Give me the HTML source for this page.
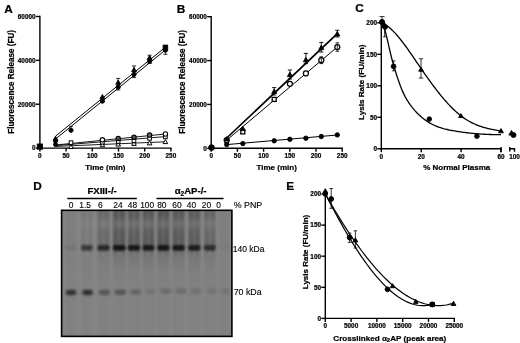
<!DOCTYPE html>
<html><head><meta charset="utf-8"><style>
html,body{margin:0;padding:0;background:#fff;}
svg{display:block;}
text{font-family:"Liberation Sans", Arial, Helvetica, sans-serif;fill:#000;}
text[font-weight="bold"]{stroke:#000;stroke-width:0.22px;}
text[font-weight="normal"]{stroke:#000;stroke-width:0.12px;}
</style></head><body>
<svg width="520" height="343" viewBox="0 0 520 343">
<rect width="520" height="343" fill="#fff"/>
<text x="4.20" y="12.50" font-size="11.8" font-weight="bold" text-anchor="start" >A</text>
<line x1="39.90" y1="15.80" x2="39.90" y2="148.80" stroke="#000" stroke-width="1.4"/>
<line x1="39.20" y1="148.10" x2="171.60" y2="148.10" stroke="#000" stroke-width="1.4"/>
<line x1="35.90" y1="148.10" x2="39.90" y2="148.10" stroke="#000" stroke-width="1.4"/>
<text x="35.60" y="150.40" font-size="6.4" font-weight="bold" text-anchor="end" >0</text>
<line x1="35.90" y1="104.23" x2="39.90" y2="104.23" stroke="#000" stroke-width="1.4"/>
<text x="35.60" y="106.53" font-size="6.4" font-weight="bold" text-anchor="end" >20000</text>
<line x1="35.90" y1="60.37" x2="39.90" y2="60.37" stroke="#000" stroke-width="1.4"/>
<text x="35.60" y="62.67" font-size="6.4" font-weight="bold" text-anchor="end" >40000</text>
<line x1="35.90" y1="16.50" x2="39.90" y2="16.50" stroke="#000" stroke-width="1.4"/>
<text x="35.60" y="18.80" font-size="6.4" font-weight="bold" text-anchor="end" >60000</text>
<line x1="39.90" y1="148.10" x2="39.90" y2="151.60" stroke="#000" stroke-width="1.4"/>
<text x="39.90" y="157.70" font-size="6.4" font-weight="bold" text-anchor="middle" >0</text>
<line x1="66.10" y1="148.10" x2="66.10" y2="151.60" stroke="#000" stroke-width="1.4"/>
<text x="66.10" y="157.70" font-size="6.4" font-weight="bold" text-anchor="middle" >50</text>
<line x1="92.30" y1="148.10" x2="92.30" y2="151.60" stroke="#000" stroke-width="1.4"/>
<text x="92.30" y="157.70" font-size="6.4" font-weight="bold" text-anchor="middle" >100</text>
<line x1="118.50" y1="148.10" x2="118.50" y2="151.60" stroke="#000" stroke-width="1.4"/>
<text x="118.50" y="157.70" font-size="6.4" font-weight="bold" text-anchor="middle" >150</text>
<line x1="144.70" y1="148.10" x2="144.70" y2="151.60" stroke="#000" stroke-width="1.4"/>
<text x="144.70" y="157.70" font-size="6.4" font-weight="bold" text-anchor="middle" >200</text>
<line x1="170.90" y1="148.10" x2="170.90" y2="151.60" stroke="#000" stroke-width="1.4"/>
<text x="170.90" y="157.70" font-size="6.4" font-weight="bold" text-anchor="middle" >250</text>
<text x="105.40" y="170.10" font-size="8" font-weight="bold" text-anchor="middle" >Time (min)</text>
<text transform="translate(14.10,81.9) rotate(-90)" font-size="8.15" font-weight="bold" text-anchor="middle">Fluorescence Release (FU)</text>
<polyline points="55.50,145.00 165.40,134.00" fill="none" stroke="#000" stroke-width="0.9"/>
<polyline points="55.50,145.60 165.40,136.60" fill="none" stroke="#000" stroke-width="0.9"/>
<polyline points="55.50,146.40 165.40,141.80" fill="none" stroke="#000" stroke-width="0.9"/>
<polygon points="71.00,144.55 73.30,148.55 68.70,148.55" fill="#fff" stroke="#000" stroke-width="1.0"/>
<polygon points="102.40,142.74 104.70,146.74 100.10,146.74" fill="#fff" stroke="#000" stroke-width="1.0"/>
<polygon points="118.20,142.08 120.50,146.08 115.90,146.08" fill="#fff" stroke="#000" stroke-width="1.0"/>
<polygon points="134.00,141.41 136.30,145.41 131.70,145.41" fill="#fff" stroke="#000" stroke-width="1.0"/>
<polygon points="149.60,140.86 151.90,144.86 147.30,144.86" fill="#fff" stroke="#000" stroke-width="1.0"/>
<polygon points="165.40,139.60 167.70,143.60 163.10,143.60" fill="#fff" stroke="#000" stroke-width="1.0"/>
<rect x="69.20" y="140.83" width="3.6" height="3.6" fill="#fff" stroke="#000" stroke-width="1.0"/>
<rect x="100.60" y="140.46" width="3.6" height="3.6" fill="#fff" stroke="#000" stroke-width="1.0"/>
<rect x="116.40" y="139.67" width="3.6" height="3.6" fill="#fff" stroke="#000" stroke-width="1.0"/>
<rect x="132.20" y="138.87" width="3.6" height="3.6" fill="#fff" stroke="#000" stroke-width="1.0"/>
<rect x="147.80" y="136.59" width="3.6" height="3.6" fill="#fff" stroke="#000" stroke-width="1.0"/>
<rect x="163.60" y="135.10" width="3.6" height="3.6" fill="#fff" stroke="#000" stroke-width="1.0"/>
<circle cx="102.40" cy="139.81" r="2.2" fill="#fff" stroke="#000" stroke-width="1.1"/>
<circle cx="118.20" cy="138.42" r="2.2" fill="#555" stroke="#000" stroke-width="1.1"/>
<circle cx="134.00" cy="137.14" r="2.2" fill="#555" stroke="#000" stroke-width="1.1"/>
<circle cx="149.60" cy="134.98" r="2.2" fill="#666" stroke="#000" stroke-width="1.1"/>
<circle cx="165.40" cy="134.00" r="2.2" fill="#fff" stroke="#000" stroke-width="1.1"/>
<polyline points="55.50,136.20 165.40,47.20" fill="none" stroke="#000" stroke-width="1.0"/>
<polyline points="55.50,139.00 165.40,50.00" fill="none" stroke="#000" stroke-width="1.0"/>
<rect x="163.10" y="45.30" width="4.6" height="4.6" fill="#000" stroke="#000" stroke-width="0.9"/>
<circle cx="55.50" cy="141.00" r="2.1" fill="#000" stroke="#000" stroke-width="0.9"/>
<circle cx="71.00" cy="130.30" r="2.1" fill="#000" stroke="#000" stroke-width="0.9"/>
<circle cx="102.40" cy="101.20" r="2.1" fill="#000" stroke="#000" stroke-width="0.9"/>
<circle cx="118.20" cy="87.00" r="2.1" fill="#000" stroke="#000" stroke-width="0.9"/>
<circle cx="134.00" cy="74.40" r="2.1" fill="#000" stroke="#000" stroke-width="0.9"/>
<circle cx="149.60" cy="61.20" r="2.1" fill="#000" stroke="#000" stroke-width="0.9"/>
<circle cx="165.40" cy="50.20" r="2.1" fill="#000" stroke="#000" stroke-width="0.9"/>
<polygon points="55.50,136.19 57.91,140.39 53.09,140.39" fill="#000" stroke="#000" stroke-width="0.9"/>
<polygon points="102.40,94.49 104.82,98.69 99.98,98.69" fill="#000" stroke="#000" stroke-width="0.9"/>
<polygon points="118.20,80.09 120.62,84.29 115.78,84.29" fill="#000" stroke="#000" stroke-width="0.9"/>
<polygon points="134.00,67.49 136.41,71.69 131.59,71.69" fill="#000" stroke="#000" stroke-width="0.9"/>
<polygon points="149.60,55.29 152.01,59.49 147.19,59.49" fill="#000" stroke="#000" stroke-width="0.9"/>
<circle cx="55.50" cy="144.60" r="2.0" fill="#000" stroke="#000" stroke-width="0.9"/>
<line x1="71.00" y1="126.40" x2="71.00" y2="130.30" stroke="#000" stroke-width="0.8"/>
<line x1="69.20" y1="126.40" x2="72.80" y2="126.40" stroke="#000" stroke-width="0.8"/>
<line x1="69.20" y1="130.30" x2="72.80" y2="130.30" stroke="#000" stroke-width="0.8"/>
<line x1="118.20" y1="78.40" x2="118.20" y2="90.00" stroke="#000" stroke-width="0.8"/>
<line x1="116.10" y1="78.40" x2="120.30" y2="78.40" stroke="#000" stroke-width="0.8"/>
<line x1="116.10" y1="90.00" x2="120.30" y2="90.00" stroke="#000" stroke-width="0.8"/>
<line x1="134.00" y1="65.90" x2="134.00" y2="77.60" stroke="#000" stroke-width="0.8"/>
<line x1="131.90" y1="65.90" x2="136.10" y2="65.90" stroke="#000" stroke-width="0.8"/>
<line x1="131.90" y1="77.60" x2="136.10" y2="77.60" stroke="#000" stroke-width="0.8"/>
<line x1="149.60" y1="55.20" x2="149.60" y2="63.50" stroke="#000" stroke-width="0.8"/>
<line x1="147.50" y1="55.20" x2="151.70" y2="55.20" stroke="#000" stroke-width="0.8"/>
<line x1="147.50" y1="63.50" x2="151.70" y2="63.50" stroke="#000" stroke-width="0.8"/>
<line x1="165.40" y1="45.20" x2="165.40" y2="54.30" stroke="#000" stroke-width="0.8"/>
<line x1="163.30" y1="45.20" x2="167.50" y2="45.20" stroke="#000" stroke-width="0.8"/>
<line x1="163.30" y1="54.30" x2="167.50" y2="54.30" stroke="#000" stroke-width="0.8"/>
<rect x="37.30" y="144.00" width="5.2" height="5.2" fill="#000" stroke="#000" stroke-width="0.9"/>
<text x="176.80" y="12.50" font-size="11.8" font-weight="bold" text-anchor="start" >B</text>
<line x1="211.20" y1="16.00" x2="211.20" y2="149.00" stroke="#000" stroke-width="1.4"/>
<line x1="210.50" y1="148.30" x2="342.90" y2="148.30" stroke="#000" stroke-width="1.4"/>
<line x1="207.20" y1="148.30" x2="211.20" y2="148.30" stroke="#000" stroke-width="1.4"/>
<text x="206.90" y="150.60" font-size="6.4" font-weight="bold" text-anchor="end" >0</text>
<line x1="207.20" y1="104.43" x2="211.20" y2="104.43" stroke="#000" stroke-width="1.4"/>
<text x="206.90" y="106.73" font-size="6.4" font-weight="bold" text-anchor="end" >20000</text>
<line x1="207.20" y1="60.57" x2="211.20" y2="60.57" stroke="#000" stroke-width="1.4"/>
<text x="206.90" y="62.87" font-size="6.4" font-weight="bold" text-anchor="end" >40000</text>
<line x1="207.20" y1="16.70" x2="211.20" y2="16.70" stroke="#000" stroke-width="1.4"/>
<text x="206.90" y="19.00" font-size="6.4" font-weight="bold" text-anchor="end" >60000</text>
<line x1="211.20" y1="148.30" x2="211.20" y2="151.80" stroke="#000" stroke-width="1.4"/>
<text x="211.20" y="157.90" font-size="6.4" font-weight="bold" text-anchor="middle" >0</text>
<line x1="237.40" y1="148.30" x2="237.40" y2="151.80" stroke="#000" stroke-width="1.4"/>
<text x="237.40" y="157.90" font-size="6.4" font-weight="bold" text-anchor="middle" >50</text>
<line x1="263.60" y1="148.30" x2="263.60" y2="151.80" stroke="#000" stroke-width="1.4"/>
<text x="263.60" y="157.90" font-size="6.4" font-weight="bold" text-anchor="middle" >100</text>
<line x1="289.80" y1="148.30" x2="289.80" y2="151.80" stroke="#000" stroke-width="1.4"/>
<text x="289.80" y="157.90" font-size="6.4" font-weight="bold" text-anchor="middle" >150</text>
<line x1="316.00" y1="148.30" x2="316.00" y2="151.80" stroke="#000" stroke-width="1.4"/>
<text x="316.00" y="157.90" font-size="6.4" font-weight="bold" text-anchor="middle" >200</text>
<line x1="342.20" y1="148.30" x2="342.20" y2="151.80" stroke="#000" stroke-width="1.4"/>
<text x="342.20" y="157.90" font-size="6.4" font-weight="bold" text-anchor="middle" >250</text>
<text x="276.70" y="170.10" font-size="8" font-weight="bold" text-anchor="middle" >Time (min)</text>
<text transform="translate(185.40,81.9) rotate(-90)" font-size="8.15" font-weight="bold" text-anchor="middle">Fluorescence Release (FU)</text>
<polyline points="226.70,144.60 337.30,135.00" fill="none" stroke="#000" stroke-width="1.0"/>
<polyline points="226.70,140.20 337.30,47.00" fill="none" stroke="#000" stroke-width="1.0"/>
<polyline points="226.70,138.00 337.30,33.60" fill="none" stroke="#000" stroke-width="1.7"/>
<rect x="224.90" y="139.20" width="3.6" height="3.6" fill="#fff" stroke="#000" stroke-width="0.9"/>
<rect x="240.80" y="129.90" width="4.0" height="4.0" fill="#fff" stroke="#000" stroke-width="1.3"/>
<rect x="272.20" y="97.40" width="4.0" height="4.0" fill="#fff" stroke="#000" stroke-width="1.3"/>
<circle cx="226.70" cy="140.20" r="2.5" fill="#fff" stroke="#000" stroke-width="1.25"/>
<circle cx="289.90" cy="83.80" r="2.5" fill="#fff" stroke="#000" stroke-width="1.25"/>
<circle cx="305.90" cy="73.40" r="2.5" fill="#fff" stroke="#000" stroke-width="1.25"/>
<circle cx="321.30" cy="60.20" r="2.5" fill="#fff" stroke="#000" stroke-width="1.25"/>
<circle cx="337.30" cy="47.00" r="2.5" fill="#fff" stroke="#000" stroke-width="1.25"/>
<polygon points="226.70,136.58 229.23,140.98 224.17,140.98" fill="#000" stroke="#000" stroke-width="0.9"/>
<polygon points="242.80,126.18 245.33,130.58 240.27,130.58" fill="#000" stroke="#000" stroke-width="0.9"/>
<polygon points="274.20,89.08 276.73,93.48 271.67,93.48" fill="#000" stroke="#000" stroke-width="0.9"/>
<polygon points="289.90,72.18 292.43,76.58 287.37,76.58" fill="#000" stroke="#000" stroke-width="0.9"/>
<polygon points="305.90,57.38 308.43,61.78 303.37,61.78" fill="#000" stroke="#000" stroke-width="0.9"/>
<polygon points="321.30,45.18 323.83,49.58 318.77,49.58" fill="#000" stroke="#000" stroke-width="0.9"/>
<polygon points="337.30,31.48 339.83,35.88 334.77,35.88" fill="#000" stroke="#000" stroke-width="0.9"/>
<circle cx="226.70" cy="144.60" r="2.2" fill="#000" stroke="#000" stroke-width="0.9"/>
<circle cx="242.80" cy="143.60" r="2.2" fill="#000" stroke="#000" stroke-width="0.9"/>
<circle cx="274.20" cy="140.80" r="2.2" fill="#000" stroke="#000" stroke-width="0.9"/>
<circle cx="289.90" cy="139.30" r="2.2" fill="#000" stroke="#000" stroke-width="0.9"/>
<circle cx="305.90" cy="138.20" r="2.2" fill="#000" stroke="#000" stroke-width="0.9"/>
<circle cx="321.30" cy="136.50" r="2.2" fill="#000" stroke="#000" stroke-width="0.9"/>
<circle cx="337.30" cy="134.90" r="2.2" fill="#000" stroke="#000" stroke-width="0.9"/>
<line x1="274.20" y1="87.60" x2="274.20" y2="95.00" stroke="#000" stroke-width="0.9"/>
<line x1="272.10" y1="87.60" x2="276.30" y2="87.60" stroke="#000" stroke-width="0.9"/>
<line x1="272.10" y1="95.00" x2="276.30" y2="95.00" stroke="#000" stroke-width="0.9"/>
<line x1="289.90" y1="70.00" x2="289.90" y2="79.00" stroke="#000" stroke-width="0.9"/>
<line x1="287.80" y1="70.00" x2="292.00" y2="70.00" stroke="#000" stroke-width="0.9"/>
<line x1="287.80" y1="79.00" x2="292.00" y2="79.00" stroke="#000" stroke-width="0.9"/>
<line x1="305.90" y1="53.40" x2="305.90" y2="63.70" stroke="#000" stroke-width="0.9"/>
<line x1="303.80" y1="53.40" x2="308.00" y2="53.40" stroke="#000" stroke-width="0.9"/>
<line x1="303.80" y1="63.70" x2="308.00" y2="63.70" stroke="#000" stroke-width="0.9"/>
<line x1="321.30" y1="42.40" x2="321.30" y2="52.00" stroke="#000" stroke-width="0.9"/>
<line x1="319.20" y1="42.40" x2="323.40" y2="42.40" stroke="#000" stroke-width="0.9"/>
<line x1="319.20" y1="52.00" x2="323.40" y2="52.00" stroke="#000" stroke-width="0.9"/>
<line x1="337.30" y1="30.30" x2="337.30" y2="37.00" stroke="#000" stroke-width="0.9"/>
<line x1="335.20" y1="30.30" x2="339.40" y2="30.30" stroke="#000" stroke-width="0.9"/>
<line x1="335.20" y1="37.00" x2="339.40" y2="37.00" stroke="#000" stroke-width="0.9"/>
<line x1="337.30" y1="42.80" x2="337.30" y2="51.30" stroke="#000" stroke-width="0.8"/>
<line x1="335.50" y1="42.80" x2="339.10" y2="42.80" stroke="#000" stroke-width="0.8"/>
<line x1="335.50" y1="51.30" x2="339.10" y2="51.30" stroke="#000" stroke-width="0.8"/>
<line x1="321.30" y1="56.80" x2="321.30" y2="63.60" stroke="#000" stroke-width="0.8"/>
<line x1="319.50" y1="56.80" x2="323.10" y2="56.80" stroke="#000" stroke-width="0.8"/>
<line x1="319.50" y1="63.60" x2="323.10" y2="63.60" stroke="#000" stroke-width="0.8"/>
<circle cx="211.50" cy="147.60" r="2.9" fill="#000" stroke="#000" stroke-width="0.9"/>
<text x="355.20" y="12.10" font-size="11.8" font-weight="bold" text-anchor="start" >C</text>
<line x1="381.30" y1="22.10" x2="381.30" y2="149.50" stroke="#000" stroke-width="1.4"/>
<line x1="380.60" y1="148.80" x2="501.70" y2="148.80" stroke="#000" stroke-width="1.4"/>
<line x1="377.30" y1="148.80" x2="381.30" y2="148.80" stroke="#000" stroke-width="1.4"/>
<text x="377.00" y="151.10" font-size="6.4" font-weight="bold" text-anchor="end" >0</text>
<line x1="377.30" y1="117.30" x2="381.30" y2="117.30" stroke="#000" stroke-width="1.4"/>
<text x="377.00" y="119.60" font-size="6.4" font-weight="bold" text-anchor="end" >50</text>
<line x1="377.30" y1="85.80" x2="381.30" y2="85.80" stroke="#000" stroke-width="1.4"/>
<text x="377.00" y="88.10" font-size="6.4" font-weight="bold" text-anchor="end" >100</text>
<line x1="377.30" y1="54.30" x2="381.30" y2="54.30" stroke="#000" stroke-width="1.4"/>
<text x="377.00" y="56.60" font-size="6.4" font-weight="bold" text-anchor="end" >150</text>
<line x1="377.30" y1="22.80" x2="381.30" y2="22.80" stroke="#000" stroke-width="1.4"/>
<text x="377.00" y="25.10" font-size="6.4" font-weight="bold" text-anchor="end" >200</text>
<line x1="381.30" y1="148.80" x2="381.30" y2="152.30" stroke="#000" stroke-width="1.4"/>
<text x="381.30" y="159.10" font-size="6.4" font-weight="bold" text-anchor="middle" >0</text>
<line x1="421.20" y1="148.80" x2="421.20" y2="152.30" stroke="#000" stroke-width="1.4"/>
<text x="421.20" y="159.10" font-size="6.4" font-weight="bold" text-anchor="middle" >20</text>
<line x1="461.10" y1="148.80" x2="461.10" y2="152.30" stroke="#000" stroke-width="1.4"/>
<text x="461.10" y="159.10" font-size="6.4" font-weight="bold" text-anchor="middle" >40</text>
<line x1="501.00" y1="148.80" x2="501.00" y2="152.30" stroke="#000" stroke-width="1.4"/>
<text x="501.00" y="159.10" font-size="6.4" font-weight="bold" text-anchor="middle" >60</text>
<polyline points="509.8,146.9 509.8,151.4" fill="none" stroke="#000" stroke-width="1.4"/>
<polyline points="509.8,148.80 514.5,148.80 514.5,151.80" fill="none" stroke="#000" stroke-width="1.4"/>
<line x1="501.00" y1="147.00" x2="501.00" y2="152.30" stroke="#000" stroke-width="1.4"/>
<text x="514.50" y="159.10" font-size="6.4" font-weight="bold" text-anchor="middle" >100</text>
<text x="456.70" y="169.80" font-size="8" font-weight="bold" text-anchor="middle" >% Normal Plasma</text>
<text transform="translate(363.5,82.3) rotate(-90)" font-size="8.1" font-weight="bold" text-anchor="middle">Lysis Rate (FU/min)</text>
<polyline points="382.30,22.64 382.78,23.64 383.26,24.81 383.74,26.13 384.22,27.59 384.70,29.17 385.18,30.87 385.66,32.67 386.14,34.55 386.62,36.50 387.09,38.52 387.57,40.58 388.05,42.67 388.53,44.77 389.01,46.89 389.49,48.99 389.97,51.07 390.45,53.11 390.93,55.11 391.41,57.04 391.89,58.91 392.37,60.72 392.85,62.47 393.33,64.18 393.81,65.84 394.29,67.47 394.77,69.06 395.25,70.63 395.73,72.18 396.21,73.70 396.68,75.21 397.16,76.68 397.64,78.13 398.12,79.55 398.60,80.95 399.08,82.31 399.56,83.64 400.04,84.94 400.52,86.21 401.00,87.44 401.50,88.68 402.76,91.64 404.02,94.35 405.28,96.83 406.54,99.11 407.80,101.21 409.06,103.15 410.32,104.94 411.58,106.61 412.84,108.18 414.09,109.67 415.35,111.08 416.61,112.43 417.87,113.72 419.13,114.94 420.39,116.09 421.65,117.19 422.91,118.23 424.17,119.21 425.43,120.14 426.69,121.01 427.95,121.83 429.21,122.61 430.47,123.34 431.73,124.03 432.99,124.67 434.25,125.27 435.51,125.83 436.77,126.36 438.03,126.85 439.28,127.31 440.54,127.73 441.80,128.13 443.06,128.50 444.32,128.85 445.58,129.17 446.84,129.47 448.10,129.75 449.36,130.02 450.62,130.27 451.88,130.50 453.14,130.73 454.40,130.94 455.66,131.15 456.92,131.35 458.18,131.54 459.44,131.73 460.70,131.92 461.96,132.09 463.22,132.27 464.47,132.43 465.73,132.59 466.99,132.75 468.25,132.90 469.51,133.04 470.77,133.18 472.03,133.31 473.29,133.43 474.55,133.55 475.81,133.67 477.07,133.77 478.33,133.87 479.59,133.96 480.85,134.05 482.11,134.13 483.37,134.21 484.63,134.27 485.89,134.33 487.15,134.39 488.41,134.44 489.66,134.48 490.92,134.51 492.18,134.54 493.44,134.56 494.70,134.57 495.96,134.57 497.22,134.57 498.48,134.56 499.74,134.55 501.00,134.53" fill="none" stroke="#000" stroke-width="1.3"/>
<polyline points="382.50,22.96 382.97,23.20 383.45,23.46 383.92,23.72 384.40,24.00 384.87,24.29 385.35,24.59 385.82,24.91 386.29,25.23 386.77,25.57 387.24,25.92 387.72,26.28 388.19,26.65 388.67,27.03 389.14,27.42 389.62,27.82 390.09,28.23 390.56,28.65 391.04,29.09 391.51,29.53 391.99,29.98 392.46,30.44 392.94,30.91 393.41,31.39 393.88,31.87 394.36,32.37 394.83,32.87 395.31,33.38 395.78,33.90 396.26,34.43 396.73,34.97 397.21,35.51 397.68,36.06 398.15,36.62 398.63,37.18 399.10,37.75 399.58,38.33 400.05,38.92 400.53,39.51 401.00,40.10 401.50,40.74 402.76,42.37 404.02,44.04 405.28,45.74 406.54,47.47 407.80,49.22 409.06,51.01 410.32,52.81 411.58,54.63 412.84,56.46 414.09,58.31 415.35,60.16 416.61,62.01 417.87,63.87 419.13,65.73 420.39,67.57 421.65,69.41 422.91,71.24 424.17,73.06 425.43,74.86 426.69,76.65 427.95,78.42 429.21,80.18 430.47,81.91 431.73,83.63 432.99,85.33 434.25,87.01 435.51,88.67 436.77,90.31 438.03,91.92 439.28,93.50 440.54,95.06 441.80,96.60 443.06,98.10 444.32,99.58 445.58,101.02 446.84,102.44 448.10,103.82 449.36,105.17 450.62,106.48 451.88,107.76 453.14,109.01 454.40,110.21 455.66,111.38 456.92,112.50 458.18,113.59 459.44,114.64 460.70,115.64 461.96,116.60 463.22,117.51 464.47,118.38 465.73,119.22 466.99,120.01 468.25,120.77 469.51,121.48 470.77,122.17 472.03,122.81 473.29,123.43 474.55,124.01 475.81,124.56 477.07,125.08 478.33,125.57 479.59,126.04 480.85,126.48 482.11,126.89 483.37,127.28 484.63,127.65 485.89,127.99 487.15,128.32 488.41,128.63 489.66,128.91 490.92,129.19 492.18,129.44 493.44,129.68 494.70,129.91 495.96,130.13 497.22,130.33 498.48,130.53 499.74,130.72 501.00,130.90" fill="none" stroke="#000" stroke-width="1.3"/>
<line x1="382.00" y1="16.60" x2="382.00" y2="22.80" stroke="#000" stroke-width="0.8"/>
<line x1="379.40" y1="16.60" x2="384.60" y2="16.60" stroke="#000" stroke-width="0.8"/>
<line x1="379.40" y1="22.80" x2="384.60" y2="22.80" stroke="#000" stroke-width="0.8"/>
<circle cx="382.00" cy="22.00" r="2.6" fill="#000" stroke="#000" stroke-width="0.9"/>
<polygon points="384.30,22.25 387.18,27.25 381.43,27.25" fill="#000" stroke="#000" stroke-width="0.9"/>
<circle cx="385.00" cy="27.00" r="2.4" fill="#000" stroke="#000" stroke-width="0.9"/>
<line x1="384.60" y1="27.00" x2="384.60" y2="36.80" stroke="#000" stroke-width="0.8"/>
<line x1="383.00" y1="27.00" x2="386.20" y2="27.00" stroke="#000" stroke-width="0.8"/>
<line x1="383.00" y1="36.80" x2="386.20" y2="36.80" stroke="#000" stroke-width="0.8"/>
<circle cx="393.60" cy="66.40" r="2.4" fill="#000" stroke="#000" stroke-width="0.9"/>
<line x1="393.60" y1="60.90" x2="393.60" y2="70.80" stroke="#000" stroke-width="0.8"/>
<line x1="391.80" y1="60.90" x2="395.40" y2="60.90" stroke="#000" stroke-width="0.8"/>
<line x1="391.80" y1="70.80" x2="395.40" y2="70.80" stroke="#000" stroke-width="0.8"/>
<polygon points="421.00,67.20 423.30,71.20 418.70,71.20" fill="#000" stroke="#000" stroke-width="0.9"/>
<line x1="421.00" y1="58.80" x2="421.00" y2="78.10" stroke="#000" stroke-width="0.8"/>
<line x1="418.80" y1="58.80" x2="423.20" y2="58.80" stroke="#000" stroke-width="0.8"/>
<line x1="418.80" y1="78.10" x2="423.20" y2="78.10" stroke="#000" stroke-width="0.8"/>
<circle cx="429.30" cy="119.10" r="2.3" fill="#000" stroke="#000" stroke-width="0.9"/>
<polygon points="460.90,113.60 463.20,117.60 458.60,117.60" fill="#000" stroke="#000" stroke-width="0.9"/>
<circle cx="476.90" cy="136.20" r="2.3" fill="#000" stroke="#000" stroke-width="0.9"/>
<polygon points="501.00,128.59 503.42,132.79 498.58,132.79" fill="#000" stroke="#000" stroke-width="0.9"/>
<circle cx="513.50" cy="135.00" r="2.5" fill="#000" stroke="#000" stroke-width="0.9"/>
<polygon points="511.50,130.47 514.14,135.07 508.86,135.07" fill="#000" stroke="#000" stroke-width="0.9"/>
<text x="33.20" y="189.60" font-size="11.8" font-weight="bold" text-anchor="start" >D</text>
<text x="102.10" y="194.00" font-size="9.6" font-weight="bold" text-anchor="middle" >FXIII-/-</text>
<line x1="67.30" y1="198.40" x2="136.80" y2="198.40" stroke="#000" stroke-width="1.5"/>
<text x="190.6" y="193.6" font-size="9.6" font-weight="bold" text-anchor="middle">α<tspan font-size="6.5" dy="2.2">2</tspan><tspan dy="-2.2">AP-/-</tspan></text>
<line x1="156.50" y1="198.40" x2="223.50" y2="198.40" stroke="#000" stroke-width="1.5"/>
<text x="71.00" y="207.70" font-size="8.4" font-weight="normal" text-anchor="middle" >0</text>
<text x="85.20" y="207.70" font-size="8.4" font-weight="normal" text-anchor="middle" >1.5</text>
<text x="100.40" y="207.70" font-size="8.4" font-weight="normal" text-anchor="middle" >6</text>
<text x="118.00" y="207.70" font-size="8.4" font-weight="normal" text-anchor="middle" >24</text>
<text x="132.50" y="207.70" font-size="8.4" font-weight="normal" text-anchor="middle" >48</text>
<text x="147.20" y="207.70" font-size="8.4" font-weight="normal" text-anchor="middle" >100</text>
<text x="161.80" y="207.70" font-size="8.4" font-weight="normal" text-anchor="middle" >80</text>
<text x="176.90" y="207.70" font-size="8.4" font-weight="normal" text-anchor="middle" >60</text>
<text x="191.40" y="207.70" font-size="8.4" font-weight="normal" text-anchor="middle" >40</text>
<text x="206.40" y="207.70" font-size="8.4" font-weight="normal" text-anchor="middle" >20</text>
<text x="218.50" y="207.70" font-size="8.4" font-weight="normal" text-anchor="middle" >0</text>
<text x="233.80" y="207.80" font-size="8.8" font-weight="normal" text-anchor="start" >% PNP</text>
<text x="232.80" y="251.90" font-size="8.5" font-weight="normal" text-anchor="start" >140 kDa</text>
<text x="233.70" y="294.90" font-size="8.8" font-weight="normal" text-anchor="start" >70 kDa</text>
<defs><clipPath id="gclip"><rect x="61.6" y="210.3" width="170.3" height="126.09999999999997"/></clipPath><linearGradient id="sg" x1="0" y1="0" x2="0" y2="1"><stop offset="0.000" stop-color="#000" stop-opacity="1.0"/><stop offset="0.096" stop-color="#000" stop-opacity="1.0"/><stop offset="0.137" stop-color="#000" stop-opacity="0.78"/><stop offset="0.199" stop-color="#000" stop-opacity="0.5"/><stop offset="0.240" stop-color="#000" stop-opacity="0.62"/><stop offset="0.301" stop-color="#000" stop-opacity="0.9"/><stop offset="0.466" stop-color="#000" stop-opacity="1.0"/><stop offset="0.562" stop-color="#000" stop-opacity="0.6"/><stop offset="0.671" stop-color="#000" stop-opacity="0.25"/><stop offset="0.836" stop-color="#000" stop-opacity="0.07"/><stop offset="1.000" stop-color="#000" stop-opacity="0.0"/></linearGradient><filter id="b2" x="-30%" y="-60%" width="160%" height="220%"><feGaussianBlur stdDeviation="1.2 1.0"/></filter><filter id="b4" x="-30%" y="-60%" width="160%" height="220%"><feGaussianBlur stdDeviation="1.4 1.2"/></filter><filter id="b3" x="-20%" y="-5%" width="140%" height="110%"><feGaussianBlur stdDeviation="1.0 0.8"/></filter></defs>
<rect x="61.6" y="210.3" width="170.3" height="126.09999999999997" fill="#858585"/>
<g clip-path="url(#gclip)">
<g filter="url(#b3)">
<rect x="65.05" y="207.3" width="11.5" height="132.09999999999997" fill="#000" fill-opacity="0.03"/>
<rect x="81.05" y="207.3" width="11.5" height="132.09999999999997" fill="#000" fill-opacity="0.03"/>
<rect x="97.50" y="207.3" width="12" height="132.09999999999997" fill="#000" fill-opacity="0.03"/>
<rect x="112.95" y="207.3" width="12.5" height="132.09999999999997" fill="#000" fill-opacity="0.03"/>
<rect x="128.00" y="207.3" width="12" height="132.09999999999997" fill="#000" fill-opacity="0.03"/>
<rect x="142.65" y="207.3" width="11.5" height="132.09999999999997" fill="#000" fill-opacity="0.03"/>
<rect x="157.40" y="207.3" width="12" height="132.09999999999997" fill="#000" fill-opacity="0.03"/>
<rect x="172.60" y="207.3" width="12" height="132.09999999999997" fill="#000" fill-opacity="0.03"/>
<rect x="188.30" y="207.3" width="12" height="132.09999999999997" fill="#000" fill-opacity="0.03"/>
<rect x="204.05" y="207.3" width="11.5" height="132.09999999999997" fill="#000" fill-opacity="0.03"/>
<rect x="218.75" y="207.3" width="10.5" height="132.09999999999997" fill="#000" fill-opacity="0.03"/>
<rect x="65.05" y="209" width="11.5" height="73" fill="url(#sg)" opacity="0.02"/>
<rect x="81.05" y="209" width="11.5" height="73" fill="url(#sg)" opacity="0.07"/>
<rect x="97.50" y="209" width="12" height="73" fill="url(#sg)" opacity="0.19"/>
<rect x="112.95" y="209" width="12.5" height="73" fill="url(#sg)" opacity="0.32"/>
<rect x="128.00" y="209" width="12" height="73" fill="url(#sg)" opacity="0.29"/>
<rect x="142.65" y="209" width="11.5" height="73" fill="url(#sg)" opacity="0.31"/>
<rect x="157.40" y="209" width="12" height="73" fill="url(#sg)" opacity="0.33"/>
<rect x="172.60" y="209" width="12" height="73" fill="url(#sg)" opacity="0.31"/>
<rect x="188.30" y="209" width="12" height="73" fill="url(#sg)" opacity="0.29"/>
<rect x="204.05" y="209" width="11.5" height="73" fill="url(#sg)" opacity="0.22"/>
<rect x="218.75" y="209" width="10.5" height="73" fill="url(#sg)" opacity="0.02"/>
</g>
<g filter="url(#b3)">
<rect x="86.00" y="211" width="1.6" height="45" fill="#fff" fill-opacity="0.10"/>
<rect x="102.70" y="211" width="1.6" height="45" fill="#fff" fill-opacity="0.10"/>
<rect x="118.40" y="211" width="1.6" height="45" fill="#fff" fill-opacity="0.10"/>
<rect x="133.20" y="211" width="1.6" height="45" fill="#fff" fill-opacity="0.10"/>
<rect x="147.60" y="211" width="1.6" height="45" fill="#fff" fill-opacity="0.10"/>
<rect x="162.60" y="211" width="1.6" height="45" fill="#fff" fill-opacity="0.10"/>
<rect x="177.80" y="211" width="1.6" height="45" fill="#fff" fill-opacity="0.10"/>
<rect x="193.50" y="211" width="1.6" height="45" fill="#fff" fill-opacity="0.10"/>
<rect x="209.00" y="211" width="1.6" height="45" fill="#fff" fill-opacity="0.10"/>
</g>
<g filter="url(#b2)">
<rect x="64.85" y="245.1" width="11.9" height="5.6" rx="2.4" fill="#000" fill-opacity="0.07"/>
<rect x="80.85" y="245.1" width="11.9" height="5.6" rx="2.4" fill="#000" fill-opacity="0.52"/>
<rect x="97.30" y="245.1" width="12.4" height="5.6" rx="2.4" fill="#000" fill-opacity="0.64"/>
<rect x="112.75" y="245.1" width="12.9" height="5.6" rx="2.4" fill="#000" fill-opacity="0.8"/>
<rect x="127.80" y="245.1" width="12.4" height="5.6" rx="2.4" fill="#000" fill-opacity="0.77"/>
<rect x="142.45" y="245.1" width="11.9" height="5.6" rx="2.4" fill="#000" fill-opacity="0.75"/>
<rect x="157.20" y="245.1" width="12.4" height="5.6" rx="2.4" fill="#000" fill-opacity="0.79"/>
<rect x="172.40" y="245.1" width="12.4" height="5.6" rx="2.4" fill="#000" fill-opacity="0.77"/>
<rect x="188.10" y="245.1" width="12.4" height="5.6" rx="2.4" fill="#000" fill-opacity="0.73"/>
<rect x="203.85" y="245.1" width="11.9" height="5.6" rx="2.4" fill="#000" fill-opacity="0.6"/>
<rect x="218.55" y="245.1" width="10.9" height="5.6" rx="2.4" fill="#000" fill-opacity="0.03"/>
</g>
<g filter="url(#b4)">
<rect x="65.85" y="289.8" width="10.5" height="5.4" rx="2.4" fill="#000" fill-opacity="0.6"/>
<rect x="82.35" y="289.8" width="10.5" height="5.4" rx="2.4" fill="#000" fill-opacity="0.62"/>
<rect x="99.00" y="289.8" width="11" height="5.4" rx="2.4" fill="#000" fill-opacity="0.33"/>
<rect x="114.65" y="289.6" width="11.5" height="5.4" rx="2.4" fill="#000" fill-opacity="0.33"/>
<rect x="130.30" y="289.4" width="11" height="5.4" rx="2.4" fill="#000" fill-opacity="0.22"/>
<rect x="145.35" y="288.5" width="10.5" height="5.4" rx="2.4" fill="#000" fill-opacity="0.1"/>
<rect x="160.50" y="288.4" width="11" height="5.4" rx="2.4" fill="#000" fill-opacity="0.17"/>
<rect x="175.70" y="288.3" width="11" height="5.4" rx="2.4" fill="#000" fill-opacity="0.16"/>
<rect x="190.60" y="288.3" width="11" height="5.4" rx="2.4" fill="#000" fill-opacity="0.12"/>
<rect x="206.75" y="288.3" width="10.5" height="5.4" rx="2.4" fill="#000" fill-opacity="0.1"/>
<rect x="220.45" y="288.3" width="9.5" height="5.4" rx="2.4" fill="#000" fill-opacity="0.1"/>
</g>
</g>
<rect x="61.6" y="210.3" width="170.3" height="126.09999999999997" fill="none" stroke="#000" stroke-width="1.6"/>
<text x="286.20" y="189.90" font-size="11.8" font-weight="bold" text-anchor="start" >E</text>
<line x1="325.30" y1="193.30" x2="325.30" y2="319.10" stroke="#000" stroke-width="1.4"/>
<line x1="324.60" y1="318.40" x2="455.00" y2="318.40" stroke="#000" stroke-width="1.4"/>
<line x1="321.30" y1="318.40" x2="325.30" y2="318.40" stroke="#000" stroke-width="1.4"/>
<text x="321.00" y="320.70" font-size="6.4" font-weight="bold" text-anchor="end" >0</text>
<line x1="321.30" y1="287.30" x2="325.30" y2="287.30" stroke="#000" stroke-width="1.4"/>
<text x="321.00" y="289.60" font-size="6.4" font-weight="bold" text-anchor="end" >50</text>
<line x1="321.30" y1="256.20" x2="325.30" y2="256.20" stroke="#000" stroke-width="1.4"/>
<text x="321.00" y="258.50" font-size="6.4" font-weight="bold" text-anchor="end" >100</text>
<line x1="321.30" y1="225.10" x2="325.30" y2="225.10" stroke="#000" stroke-width="1.4"/>
<text x="321.00" y="227.40" font-size="6.4" font-weight="bold" text-anchor="end" >150</text>
<line x1="321.30" y1="194.00" x2="325.30" y2="194.00" stroke="#000" stroke-width="1.4"/>
<text x="321.00" y="196.30" font-size="6.4" font-weight="bold" text-anchor="end" >200</text>
<line x1="325.30" y1="318.40" x2="325.30" y2="321.90" stroke="#000" stroke-width="1.4"/>
<text x="325.30" y="327.80" font-size="6.4" font-weight="bold" text-anchor="middle" >0</text>
<line x1="351.10" y1="318.40" x2="351.10" y2="321.90" stroke="#000" stroke-width="1.4"/>
<text x="351.10" y="327.80" font-size="6.4" font-weight="bold" text-anchor="middle" >5000</text>
<line x1="376.90" y1="318.40" x2="376.90" y2="321.90" stroke="#000" stroke-width="1.4"/>
<text x="376.90" y="327.80" font-size="6.4" font-weight="bold" text-anchor="middle" >10000</text>
<line x1="402.70" y1="318.40" x2="402.70" y2="321.90" stroke="#000" stroke-width="1.4"/>
<text x="402.70" y="327.80" font-size="6.4" font-weight="bold" text-anchor="middle" >15000</text>
<line x1="428.50" y1="318.40" x2="428.50" y2="321.90" stroke="#000" stroke-width="1.4"/>
<text x="428.50" y="327.80" font-size="6.4" font-weight="bold" text-anchor="middle" >20000</text>
<line x1="454.30" y1="318.40" x2="454.30" y2="321.90" stroke="#000" stroke-width="1.4"/>
<text x="454.30" y="327.80" font-size="6.4" font-weight="bold" text-anchor="middle" >25000</text>
<text x="389.8" y="340.6" font-size="8.1" font-weight="bold" text-anchor="middle">Crosslinked α<tspan font-size="6" dy="1.8">2</tspan><tspan dy="-1.8">AP (peak area)</tspan></text>
<text transform="translate(307.6,252) rotate(-90)" font-size="8" font-weight="bold" text-anchor="middle">Lysis Rate (FU/min)</text>
<polyline points="325.30,193.78 327.12,197.34 328.93,200.86 330.75,204.34 332.56,207.78 334.38,211.19 336.19,214.56 338.01,217.88 339.82,221.16 341.64,224.40 343.45,227.59 345.27,230.74 347.08,233.84 348.90,236.89 350.71,239.89 352.53,242.84 354.34,245.74 356.16,248.59 357.97,251.38 359.79,254.11 361.61,256.79 363.42,259.41 365.24,261.97 367.05,264.48 368.87,266.92 370.68,269.29 372.50,271.61 374.31,273.86 376.13,276.04 377.94,278.15 379.76,280.20 381.57,282.18 383.39,284.08 385.20,285.92 387.02,287.68 388.83,289.36 390.65,290.97 392.46,292.51 394.28,293.96 396.09,295.34 397.91,296.64 399.73,297.85 401.54,298.98 403.36,300.03 405.17,300.99 406.99,301.87 408.80,302.66 410.62,303.36 412.43,303.97 414.25,304.49 416.06,304.91 417.88,305.25 419.69,305.49 421.51,305.63 423.32,305.68 425.14,305.63 426.95,305.48 428.77,305.22 430.58,304.87 432.40,304.42" fill="none" stroke="#000" stroke-width="1.2"/>
<polyline points="325.30,193.91 327.16,197.19 329.02,200.44 330.88,203.65 332.74,206.83 334.60,209.96 336.46,213.06 338.32,216.12 340.18,219.14 342.03,222.11 343.89,225.05 345.75,227.94 347.61,230.79 349.47,233.60 351.33,236.36 353.19,239.08 355.05,241.75 356.91,244.38 358.77,246.96 360.63,249.50 362.49,251.99 364.35,254.43 366.21,256.82 368.07,259.16 369.93,261.45 371.79,263.69 373.64,265.88 375.50,268.02 377.36,270.11 379.22,272.14 381.08,274.12 382.94,276.05 384.80,277.92 386.66,279.73 388.52,281.49 390.38,283.19 392.24,284.84 394.10,286.43 395.96,287.96 397.82,289.43 399.68,290.84 401.54,292.19 403.40,293.48 405.26,294.71 407.11,295.87 408.97,296.98 410.83,298.02 412.69,299.00 414.55,299.91 416.41,300.76 418.27,301.54 420.13,302.25 421.99,302.90 423.85,303.48 425.71,304.00 427.57,304.44 429.43,304.81 431.29,305.12 433.15,305.35 435.01,305.52 436.87,305.61 438.72,305.63 440.58,305.58 442.44,305.45 444.30,305.25 446.16,304.97 448.02,304.62 449.88,304.19 451.74,303.69 453.60,303.11" fill="none" stroke="#000" stroke-width="1.2"/>
<circle cx="325.30" cy="194.00" r="2.3" fill="#000" stroke="#000" stroke-width="0.9"/>
<polygon points="325.30,188.69 327.72,192.89 322.88,192.89" fill="#000" stroke="#000" stroke-width="0.9"/>
<line x1="331.20" y1="188.50" x2="331.20" y2="208.30" stroke="#000" stroke-width="0.8"/>
<line x1="329.40" y1="188.50" x2="333.00" y2="188.50" stroke="#000" stroke-width="0.8"/>
<line x1="329.40" y1="208.30" x2="333.00" y2="208.30" stroke="#000" stroke-width="0.8"/>
<circle cx="331.20" cy="199.00" r="2.4" fill="#000" stroke="#000" stroke-width="0.9"/>
<line x1="349.60" y1="233.10" x2="349.60" y2="242.40" stroke="#000" stroke-width="0.8"/>
<line x1="347.80" y1="233.10" x2="351.40" y2="233.10" stroke="#000" stroke-width="0.8"/>
<line x1="347.80" y1="242.40" x2="351.40" y2="242.40" stroke="#000" stroke-width="0.8"/>
<circle cx="349.60" cy="237.50" r="2.4" fill="#000" stroke="#000" stroke-width="0.9"/>
<line x1="355.40" y1="230.80" x2="355.40" y2="248.00" stroke="#000" stroke-width="0.8"/>
<line x1="353.60" y1="230.80" x2="357.20" y2="230.80" stroke="#000" stroke-width="0.8"/>
<line x1="353.60" y1="248.00" x2="357.20" y2="248.00" stroke="#000" stroke-width="0.8"/>
<polygon points="355.40,237.79 357.81,241.99 352.98,241.99" fill="#000" stroke="#000" stroke-width="0.9"/>
<circle cx="387.50" cy="289.30" r="2.4" fill="#000" stroke="#000" stroke-width="0.9"/>
<polygon points="392.60,283.70 394.90,287.70 390.30,287.70" fill="#000" stroke="#000" stroke-width="0.9"/>
<polygon points="415.80,299.40 418.10,303.40 413.50,303.40" fill="#000" stroke="#000" stroke-width="0.9"/>
<circle cx="432.30" cy="304.40" r="2.5" fill="#000" stroke="#000" stroke-width="0.9"/>
<rect x="430.30" y="302.60" width="4.0" height="4.0" fill="#000" stroke="#000" stroke-width="0.9"/>
<polygon points="453.50,301.29 455.92,305.49 451.08,305.49" fill="#000" stroke="#000" stroke-width="0.9"/>
</svg>
</body></html>
